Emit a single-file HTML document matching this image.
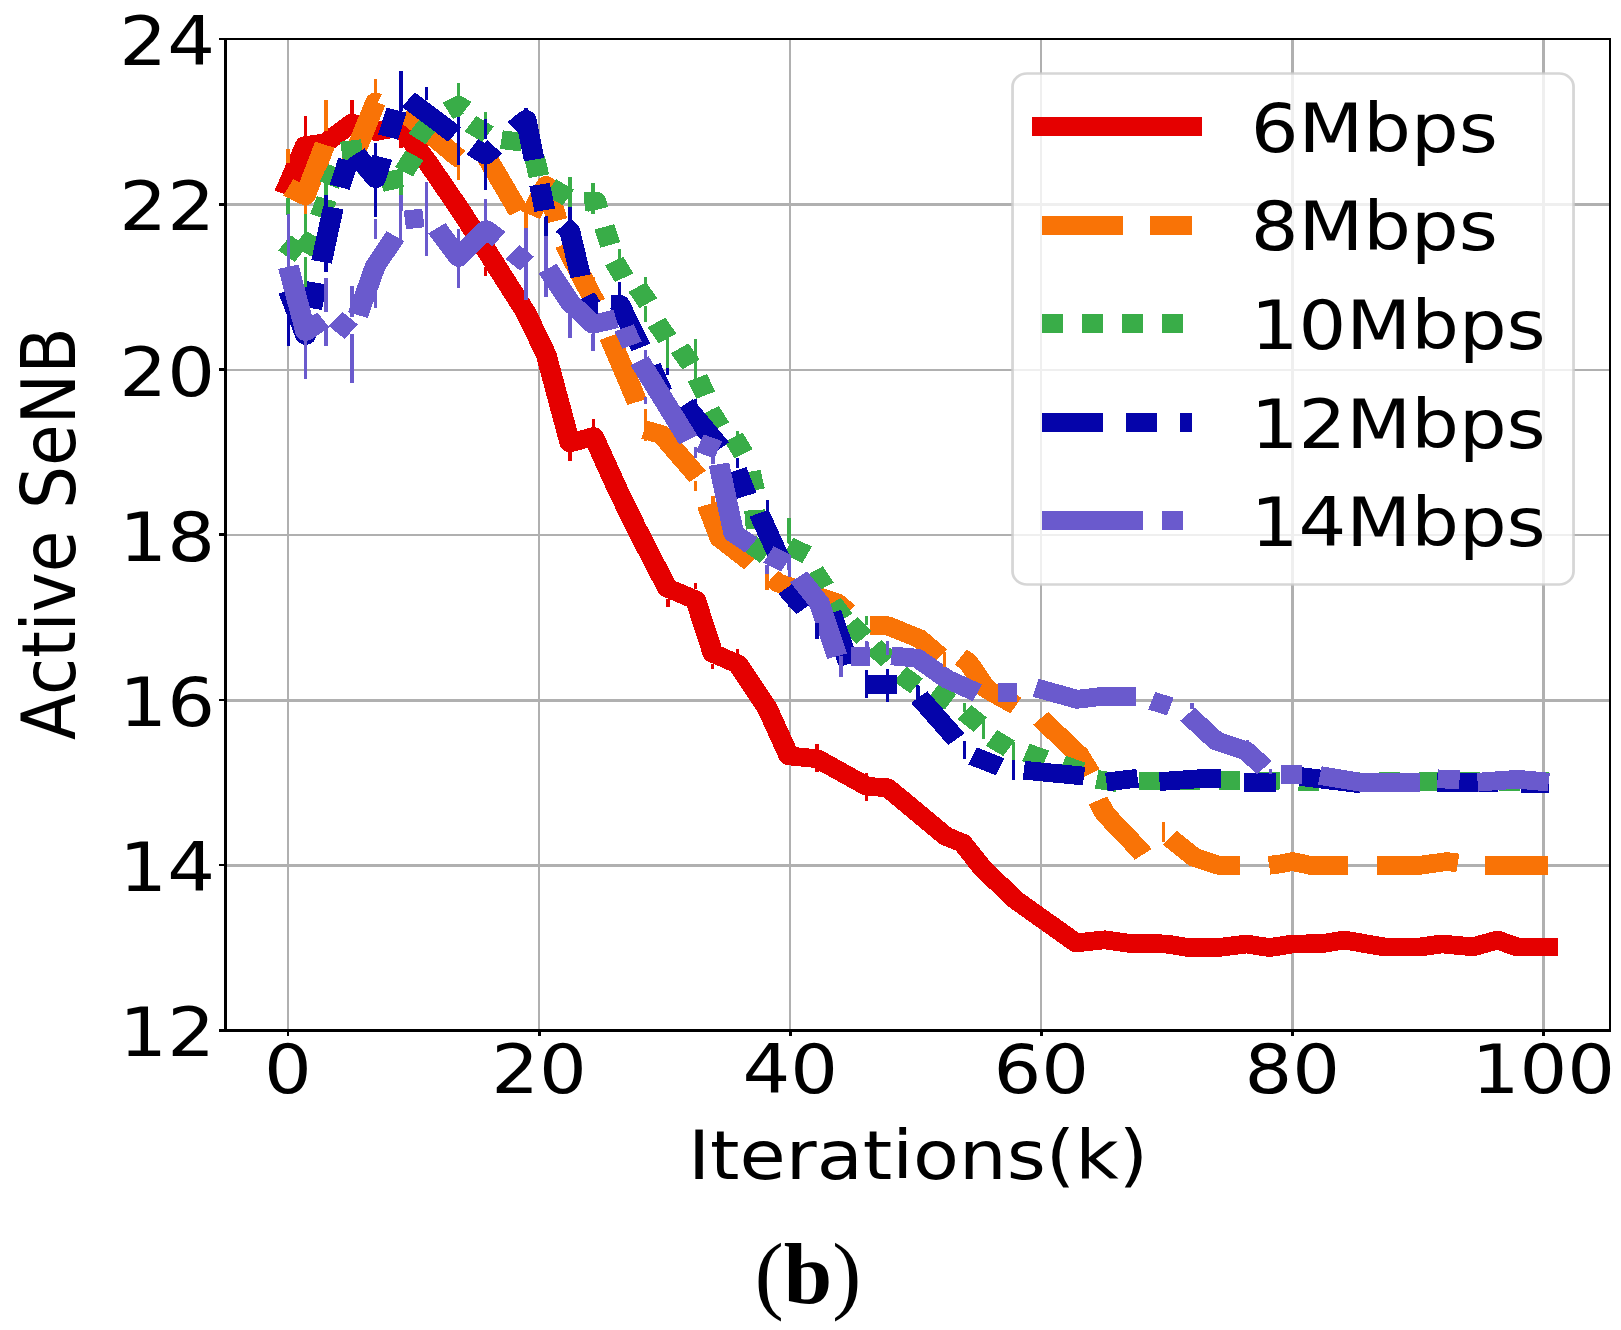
<!DOCTYPE html>
<html lang="en"><head><meta charset="utf-8"><title>Active SeNB vs Iterations (b)</title>
<style>html,body{margin:0;padding:0;background:#fff;overflow:hidden;}svg{display:block;}text{font-family:"DejaVu Sans","Liberation Sans",sans-serif;fill:#000;}</style></head><body>
<svg width="1621" height="1330" viewBox="0 0 1621 1330">
<rect width="1621" height="1330" fill="#fff"/>
<g transform="scale(1.11,1)">
<g stroke="#b0b0b0" stroke-width="2.5" shape-rendering="crispEdges"><line x1="259.46" y1="39.0" x2="259.46" y2="1030.3" stroke-width="2.1"/><line x1="485.68" y1="39.0" x2="485.68" y2="1030.3" stroke-width="2.1"/><line x1="711.89" y1="39.0" x2="711.89" y2="1030.3" stroke-width="2.1"/><line x1="938.11" y1="39.0" x2="938.11" y2="1030.3" stroke-width="2.1"/><line x1="1164.32" y1="39.0" x2="1164.32" y2="1030.3" stroke-width="2.1"/><line x1="1390.54" y1="39.0" x2="1390.54" y2="1030.3" stroke-width="2.1"/><line x1="203.15" y1="865.6" x2="1450.45" y2="865.6"/><line x1="203.15" y1="700.4" x2="1450.45" y2="700.4"/><line x1="203.15" y1="535.2" x2="1450.45" y2="535.2"/><line x1="203.15" y1="369.9" x2="1450.45" y2="369.9"/><line x1="203.15" y1="204.7" x2="1450.45" y2="204.7"/></g>
<clipPath id="axclip"><rect x="203.15" y="39.0" width="1247.30" height="991.30"/></clipPath>
<g clip-path="url(#axclip)" fill="none" shape-rendering="crispEdges" stroke-width="18.7" stroke-linejoin="round" stroke-linecap="butt">
<path d="M256.0 194.0L259.5 185.3L275.0 145.7L293.6 142.6L317.0 123.2L338.4 131.5L361.2 127.0L384.2 160.5L413.1 207.5L437.7 249.5L473.9 312.8L492.1 354.8L513.4 442.9L534.8 436.6L555.7 487.9L573.0 527.4L591.3 566.9L601.4 588.1L626.7 599.9L642.2 653.2L664.7 664.1L691.3 708.3L710.8 755.9L736.4 758.8L781.0 786.3L799.6 787.8L852.1 836.2L867.2 843.1L885.0 867.8L914.3 899.4L969.5 942.9L995.3 939.8L1018.6 943.5L1050.4 943.9L1070.4 947.6L1097.0 947.6L1122.9 944.0L1143.7 947.6L1164.5 944.0L1190.4 943.7L1211.2 940.0L1246.8 946.9L1280.1 946.9L1299.0 943.9L1326.8 946.9L1349.0 940.0L1366.8 946.9L1403.4 946.9" stroke="#e50000"/>
<path d="M259.7 187.3L275.0 195.8L292.7 144.7M310.5 155.7L317.0 160.9L338.4 102.0L340.2 102.8M364.6 113.0L384.2 131.0L413.1 158.0L414.4 158.0M438.7 157.5L467.1 211.2M478.0 215.0L492.0 185.5L502.1 220.7M508.7 244.0L536.5 303.0M548.9 336.5L567.6 384.9L573.9 402.0M580.6 429.7L596.1 434.6L628.5 476.5M637.0 504.7L648.6 538.2L676.7 562.5M695.4 578.0L701.7 583.2L720.7 590.0L754.1 602.9L764.0 612.0M783.5 625.6L799.6 625.7L828.1 638.5L846.8 656.3M865.5 657.2L872.1 662.0L888.6 688.8L915.2 705.6M937.5 718.4L972.2 755.0L982.5 773.7M989.1 800.4L995.3 813.2L1004.1 823.8L1026.3 849.5L1029.9 854.4M1053.9 837.7L1076.1 857.4L1097.5 865.3L1117.0 865.3M1143.3 865.3L1153.2 864.0L1164.5 861.5L1180.2 865.3L1214.3 865.3M1240.6 865.3L1279.3 865.3L1303.6 861.5L1313.4 863.0M1337.8 865.3L1394.3 865.3" stroke="#f97306"/>
<path d="M258.0 256.1L269.4 240.9M272.6 251.4L283.2 235.8M288.3 217.0L294.3 199.0M296.6 185.1L304.3 167.9M307.7 151.0L326.4 148.6M328.0 165.8L342.3 178.2M343.4 182.7L361.8 178.1M363.9 171.8L373.4 155.4M375.6 138.8L386.6 123.4M423.9 123.8L439.6 134.4M451.7 139.6L470.4 142.2M481.6 157.8L485.6 176.2M496.1 187.2L512.0 197.4M544.3 226.9L549.9 244.9M553.3 261.1L562.3 277.7M574.1 287.1L584.1 303.1M591.4 322.5L601.4 338.5M612.3 348.4L622.5 364.4M628.3 377.8L635.8 395.2M639.5 410.6L648.8 427.0M660.9 437.2L669.9 453.8M676.0 471.7L679.8 490.3M679.8 510.1L681.2 528.9M675.7 543.7L690.4 555.5M710.4 545.9L727.1 554.9M733.3 571.1L743.1 587.3M749.8 602.9L760.2 618.7M765.6 623.5L778.4 637.5M787.4 646.3L800.3 660.1M810.9 674.1L825.7 685.9M840.7 691.5L856.4 701.9M869.0 712.1L883.2 724.7M893.2 737.9L909.0 748.3M924.2 752.5L941.9 759.3M957.0 764.6L974.6 771.4M988.0 779.3L1006.6 782.7M1025.8 781.0L1044.7 781.0M1061.8 781.1L1080.7 780.9M1097.8 780.5L1116.7 780.5M1133.9 780.9L1152.8 781.1M1169.9 781.4L1188.8 781.6M1206.0 781.5L1224.9 781.5M1242.0 781.5L1260.9 781.5M1278.0 781.5L1296.9 781.5M1314.1 781.5L1333.0 781.5M1350.1 781.5L1369.0 781.5M1386.1 781.5L1395.2 781.5M403.4 110.8L413.1 105.3L419.4 109.7M526.5 201.4L536.7 201.0L538.9 209.4" stroke="#39ad48"/>
<path d="M259.8 290.4L275.3 335.4L276.7 328.3M280.8 308.2L285.6 282.9M289.7 261.8L300.3 207.5M306.0 187.2L313.8 160.4M320.7 153.8L338.4 178.7L344.3 157.2M349.6 137.1L357.2 110.2M367.9 99.6L409.5 134.4M425.5 146.9L437.6 155.1L445.8 146.9M463.4 129.1L473.9 119.4L481.2 159.7M486.1 184.5L490.8 210.2M507.1 225.2L513.3 230.9L523.1 276.3M527.6 296.7L532.4 305.9L539.1 305.9M550.2 304.4L558.2 304.4L577.4 347.4M586.3 366.5L596.8 392.4M616.9 404.6L649.4 448.0M663.7 470.2L672.6 495.8M683.8 513.2L704.6 563.9M708.5 588.1L724.8 608.4M748.8 612.8L764.8 664.1M780.5 684.8L808.4 684.8M828.1 697.1L861.6 739.2M876.1 755.9L901.0 766.8M922.4 770.2L976.6 776.1M996.7 782.0L1025.0 778.2M1044.6 781.6L1079.7 778.8L1100.1 778.8M1120.6 782.8L1149.9 782.8M1171.8 776.5L1226.2 784.0M1246.8 782.4L1274.7 782.4M1294.8 782.4L1349.9 782.4M1370.5 783.2L1395.3 783.2" stroke="#0504aa"/>
<path d="M259.8 266.7L275.3 331.5L291.3 320.0M302.3 319.0L316.5 331.7M322.4 315.1L338.0 266.3L356.2 236.1M364.7 219.9L381.4 218.0M393.5 228.2L413.1 257.4L438.1 229.6L449.5 239.1M461.6 251.9L474.8 263.8M493.4 268.6L513.3 302.0L534.3 324.3L555.1 318.8M562.3 327.9L569.4 345.2M576.2 360.8L620.1 439.8M630.4 443.1L647.1 449.8M647.7 464.2L661.0 533.3L677.0 545.2M692.3 554.5L708.3 563.4M719.5 576.8L738.2 602.9L754.2 656.2M767.0 656.6L784.1 656.6M803.1 655.9L826.3 658.2L853.0 679.0L880.6 692.8M898.7 692.8L915.8 692.8M933.0 687.8L970.4 699.3L993.5 696.3L1023.7 696.3M1037.6 700.7L1054.3 706.6M1069.9 714.3L1095.7 740.9L1122.4 750.8L1139.2 767.6M1154.4 774.5L1172.7 774.5M1189.0 775.5L1225.4 782.2L1279.7 782.2M1295.1 778.8L1314.9 779.8M1331.2 782.2L1367.7 779.2L1395.3 782.2" stroke="#6a5acd"/>
<path d="M259.5 149.0V162.5" stroke="#f97306" stroke-width="3"/>
<path d="M259.5 198.3V215.0" stroke="#39ad48" stroke-width="3"/>
<path d="M275.0 116.3V137.2" stroke="#e50000" stroke-width="3"/>
<path d="M275.0 203.9V215.0" stroke="#f97306" stroke-width="3"/>
<path d="M293.6 100.0V131.1" stroke="#f97306" stroke-width="3"/>
<path d="M293.6 171.2V194.6" stroke="#39ad48" stroke-width="3"/>
<path d="M293.6 194.6V200.8" stroke="#0504aa" stroke-width="3"/>
<path d="M317.1 100.0V113.8" stroke="#e50000" stroke-width="3"/>
<path d="M338.4 79.3V93.4" stroke="#f97306" stroke-width="3"/>
<path d="M338.4 142.8V157.0" stroke="#0504aa" stroke-width="3"/>
<path d="M338.4 187.8V217.4" stroke="#0504aa" stroke-width="3"/>
<path d="M361.2 71.2V111.3" stroke="#0504aa" stroke-width="3"/>
<path d="M361.2 136.6V148.0" stroke="#e50000" stroke-width="3"/>
<path d="M361.2 168.7V194.6" stroke="#39ad48" stroke-width="3"/>
<path d="M361.2 194.6V210.7" stroke="#6a5acd" stroke-width="3"/>
<path d="M384.2 87.3V99.0" stroke="#0504aa" stroke-width="3"/>
<path d="M384.2 181.7V220.0" stroke="#6a5acd" stroke-width="3"/>
<path d="M413.1 83.2V96.9" stroke="#39ad48" stroke-width="3"/>
<path d="M413.1 116.9V165.0" stroke="#0504aa" stroke-width="3"/>
<path d="M413.1 165.0V180.4" stroke="#f97306" stroke-width="3"/>
<path d="M259.8 197.6V214.4" stroke="#39ad48" stroke-width="3"/>
<path d="M259.8 214.4V267.1" stroke="#6a5acd" stroke-width="3"/>
<path d="M259.8 316.1V345.7" stroke="#0504aa" stroke-width="3"/>
<path d="M275.3 204.5V214.4" stroke="#f97306" stroke-width="3"/>
<path d="M275.3 214.4V237.1" stroke="#39ad48" stroke-width="3"/>
<path d="M275.3 256.9V286.5" stroke="#39ad48" stroke-width="3"/>
<path d="M275.3 339.8V379.2" stroke="#6a5acd" stroke-width="3"/>
<path d="M293.6 175.9V194.7" stroke="#39ad48" stroke-width="3"/>
<path d="M293.6 194.7V206.5" stroke="#0504aa" stroke-width="3"/>
<path d="M293.6 261.8V271.7" stroke="#0504aa" stroke-width="3"/>
<path d="M293.6 277.6V312.1" stroke="#6a5acd" stroke-width="3"/>
<path d="M293.6 325.9V345.7" stroke="#6a5acd" stroke-width="3"/>
<path d="M317.0 285.5V317.1" stroke="#6a5acd" stroke-width="3"/>
<path d="M317.0 333.8V383.2" stroke="#6a5acd" stroke-width="3"/>
<path d="M338.0 187.8V217.4" stroke="#0504aa" stroke-width="3"/>
<path d="M338.0 219.3V239.1" stroke="#6a5acd" stroke-width="3"/>
<path d="M338.0 288.4V308.2" stroke="#6a5acd" stroke-width="3"/>
<path d="M361.1 170.0V194.7" stroke="#39ad48" stroke-width="3"/>
<path d="M361.1 194.7V242.0" stroke="#6a5acd" stroke-width="3"/>
<path d="M384.3 181.8V219.3" stroke="#6a5acd" stroke-width="3"/>
<path d="M384.3 227.2V255.9" stroke="#6a5acd" stroke-width="3"/>
<path d="M413.1 170.0V179.9" stroke="#f97306" stroke-width="3"/>
<path d="M413.1 229.2V288.4" stroke="#6a5acd" stroke-width="3"/>
<path d="M437.6 170.0V189.7" stroke="#0504aa" stroke-width="3"/>
<path d="M437.6 199.6V221.3" stroke="#6a5acd" stroke-width="3"/>
<path d="M473.9 214.4V227.2" stroke="#f97306" stroke-width="3"/>
<path d="M473.9 227.2V296.3" stroke="#6a5acd" stroke-width="3"/>
<path d="M492.2 217.4V235.1" stroke="#0504aa" stroke-width="3"/>
<path d="M492.2 235.1V296.3" stroke="#6a5acd" stroke-width="3"/>
<path d="M513.5 176.9V206.5" stroke="#39ad48" stroke-width="3"/>
<path d="M513.5 206.5V223.3" stroke="#0504aa" stroke-width="3"/>
<path d="M513.5 308.2V337.8" stroke="#6a5acd" stroke-width="3"/>
<path d="M361.1 70.9V113.3" stroke="#0504aa" stroke-width="3"/>
<path d="M384.3 87.6V99.5" stroke="#0504aa" stroke-width="3"/>
<path d="M384.3 182.4V255.4" stroke="#6a5acd" stroke-width="3"/>
<path d="M413.1 83.7V96.5" stroke="#39ad48" stroke-width="3"/>
<path d="M413.1 117.2V164.6" stroke="#0504aa" stroke-width="3"/>
<path d="M413.1 164.6V180.4" stroke="#f97306" stroke-width="3"/>
<path d="M437.6 112.3V119.2" stroke="#39ad48" stroke-width="3"/>
<path d="M437.6 119.2V139.0" stroke="#0504aa" stroke-width="3"/>
<path d="M437.6 162.6V190.3" stroke="#0504aa" stroke-width="3"/>
<path d="M437.6 199.2V220.9" stroke="#6a5acd" stroke-width="3"/>
<path d="M473.9 107.8V110.5" stroke="#0504aa" stroke-width="3"/>
<path d="M473.9 217.9V227.8" stroke="#f97306" stroke-width="3"/>
<path d="M473.9 227.8V300.0" stroke="#6a5acd" stroke-width="3"/>
<path d="M492.2 215.9V235.7" stroke="#0504aa" stroke-width="3"/>
<path d="M492.2 235.7V296.9" stroke="#6a5acd" stroke-width="3"/>
<path d="M513.5 177.4V207.1" stroke="#39ad48" stroke-width="3"/>
<path d="M513.5 207.1V223.8" stroke="#0504aa" stroke-width="3"/>
<path d="M437.4 167.8V189.5" stroke="#0504aa" stroke-width="3"/>
<path d="M437.4 199.3V221.1" stroke="#6a5acd" stroke-width="3"/>
<path d="M437.4 266.5V276.3" stroke="#e50000" stroke-width="3"/>
<path d="M473.9 209.2V228.0" stroke="#f97306" stroke-width="3"/>
<path d="M473.9 228.0V296.1" stroke="#6a5acd" stroke-width="3"/>
<path d="M492.0 217.1V235.9" stroke="#0504aa" stroke-width="3"/>
<path d="M492.0 235.9V297.1" stroke="#6a5acd" stroke-width="3"/>
<path d="M513.3 177.6V207.2" stroke="#39ad48" stroke-width="3"/>
<path d="M513.3 207.2V223.0" stroke="#0504aa" stroke-width="3"/>
<path d="M513.3 317.8V337.5" stroke="#6a5acd" stroke-width="3"/>
<path d="M534.3 182.6V192.4" stroke="#39ad48" stroke-width="3"/>
<path d="M534.3 209.2V214.2" stroke="#39ad48" stroke-width="3"/>
<path d="M534.3 277.3V288.2" stroke="#f97306" stroke-width="3"/>
<path d="M534.3 333.6V351.3" stroke="#6a5acd" stroke-width="3"/>
<path d="M558.2 248.7V260.5" stroke="#39ad48" stroke-width="3"/>
<path d="M558.2 282.3V295.1" stroke="#0504aa" stroke-width="3"/>
<path d="M581.5 277.3V288.2" stroke="#39ad48" stroke-width="3"/>
<path d="M581.5 305.9V321.7" stroke="#39ad48" stroke-width="3"/>
<path d="M601.4 333.6V367.1" stroke="#39ad48" stroke-width="3"/>
<path d="M626.3 339.5V379.0" stroke="#39ad48" stroke-width="3"/>
<path d="M513.4 452.4V461.3" stroke="#e50000" stroke-width="3"/>
<path d="M513.4 330.0V337.9" stroke="#6a5acd" stroke-width="3"/>
<path d="M534.7 418.8V427.7" stroke="#e50000" stroke-width="3"/>
<path d="M534.7 333.9V350.7" stroke="#6a5acd" stroke-width="3"/>
<path d="M581.5 349.7V357.6" stroke="#6a5acd" stroke-width="3"/>
<path d="M581.5 397.1V404.0" stroke="#6a5acd" stroke-width="3"/>
<path d="M581.5 409.0V440.5" stroke="#f97306" stroke-width="3"/>
<path d="M601.4 337.9V367.5" stroke="#39ad48" stroke-width="3"/>
<path d="M601.4 367.5V375.4" stroke="#0504aa" stroke-width="3"/>
<path d="M626.3 338.9V379.3" stroke="#39ad48" stroke-width="3"/>
<path d="M626.3 399.1V406.0" stroke="#0504aa" stroke-width="3"/>
<path d="M626.3 446.5V458.3" stroke="#6a5acd" stroke-width="3"/>
<path d="M626.3 481.0V490.9" stroke="#f97306" stroke-width="3"/>
<path d="M642.3 409.0V416.9" stroke="#39ad48" stroke-width="3"/>
<path d="M642.3 456.3V464.2" stroke="#6a5acd" stroke-width="3"/>
<path d="M642.3 495.8V541.2" stroke="#f97306" stroke-width="3"/>
<path d="M664.6 430.7V440.5" stroke="#39ad48" stroke-width="3"/>
<path d="M664.6 458.3V468.2" stroke="#0504aa" stroke-width="3"/>
<path d="M691.2 499.8V509.6" stroke="#0504aa" stroke-width="3"/>
<path d="M691.2 564.9V570.0" stroke="#6a5acd" stroke-width="3"/>
<path d="M710.8 517.5V543.2" stroke="#39ad48" stroke-width="3"/>
<path d="M710.8 555.0V570.0" stroke="#6a5acd" stroke-width="3"/>
<path d="M601.8 599.0V606.9" stroke="#e50000" stroke-width="3"/>
<path d="M626.7 583.2V589.1" stroke="#e50000" stroke-width="3"/>
<path d="M642.1 664.1V669.0" stroke="#e50000" stroke-width="3"/>
<path d="M642.1 529.9V540.7" stroke="#f97306" stroke-width="3"/>
<path d="M664.7 649.3V654.2" stroke="#e50000" stroke-width="3"/>
<path d="M691.0 565.4V574.3" stroke="#6a5acd" stroke-width="3"/>
<path d="M691.0 574.3V590.1" stroke="#f97306" stroke-width="3"/>
<path d="M711.1 520.0V543.7" stroke="#39ad48" stroke-width="3"/>
<path d="M711.1 562.4V577.2" stroke="#6a5acd" stroke-width="3"/>
<path d="M711.1 599.0V606.9" stroke="#0504aa" stroke-width="3"/>
<path d="M735.9 622.6V639.4" stroke="#0504aa" stroke-width="3"/>
<path d="M736.4 744.0V749.0" stroke="#e50000" stroke-width="3"/>
<path d="M757.7 656.2V676.9" stroke="#6a5acd" stroke-width="3"/>
<path d="M780.8 615.7V624.6" stroke="#39ad48" stroke-width="3"/>
<path d="M780.8 641.4V648.3" stroke="#6a5acd" stroke-width="3"/>
<path d="M780.8 670.0V697.7" stroke="#0504aa" stroke-width="3"/>
<path d="M799.5 641.4V648.3" stroke="#6a5acd" stroke-width="3"/>
<path d="M799.5 669.0V701.6" stroke="#0504aa" stroke-width="3"/>
<path d="M827.1 685.8V697.7" stroke="#0504aa" stroke-width="3"/>
<path d="M736.0 744.4V749.3" stroke="#e50000" stroke-width="3"/>
<path d="M736.0 768.1V772.0" stroke="#e50000" stroke-width="3"/>
<path d="M780.9 773.0V778.0" stroke="#e50000" stroke-width="3"/>
<path d="M780.9 795.7V800.7" stroke="#e50000" stroke-width="3"/>
<path d="M869.0 740.5V759.2" stroke="#0504aa" stroke-width="3"/>
<path d="M913.1 760.2V779.9" stroke="#0504aa" stroke-width="3"/>
<path d="M885.9 719.7V738.5" stroke="#39ad48" stroke-width="3"/>
<path d="M913.1 742.4V760.2" stroke="#39ad48" stroke-width="3"/>
<path d="M869.0 703.0V711.8" stroke="#39ad48" stroke-width="3"/>
<path d="M826.7 684.9V698.7" stroke="#0504aa" stroke-width="3"/>
<path d="M851.2 652.3V667.1" stroke="#f97306" stroke-width="3"/>
<path d="M799.7 641.5V655.3" stroke="#6a5acd" stroke-width="3"/>
<path d="M781.0 641.5V647.4" stroke="#6a5acd" stroke-width="3"/>
<path d="M1048.0 821.9V841.6" stroke="#f97306" stroke-width="3"/>
<path d="M1074.0 703.0V709.3" stroke="#6a5acd" stroke-width="3"/>
<path d="M1124.1 739.9V744.9" stroke="#6a5acd" stroke-width="3"/>
<path d="M1144.6 768.6V773.5" stroke="#6a5acd" stroke-width="3"/>
</g>
<rect x="203.15" y="39.0" width="1247.30" height="991.30" fill="none" stroke="#000" stroke-width="2.6" shape-rendering="crispEdges"/>
<g stroke="#000" stroke-width="2.6" shape-rendering="crispEdges"><line x1="259.46" y1="1030.3" x2="259.46" y2="1035.8"/><line x1="485.68" y1="1030.3" x2="485.68" y2="1035.8"/><line x1="711.89" y1="1030.3" x2="711.89" y2="1035.8"/><line x1="938.11" y1="1030.3" x2="938.11" y2="1035.8"/><line x1="1164.32" y1="1030.3" x2="1164.32" y2="1035.8"/><line x1="1390.54" y1="1030.3" x2="1390.54" y2="1035.8"/><line x1="197.15" y1="1030.3" x2="203.15" y2="1030.3"/><line x1="197.15" y1="865.1" x2="203.15" y2="865.1"/><line x1="197.15" y1="699.9" x2="203.15" y2="699.9"/><line x1="197.15" y1="534.7" x2="203.15" y2="534.7"/><line x1="197.15" y1="369.4" x2="203.15" y2="369.4"/><line x1="197.15" y1="204.2" x2="203.15" y2="204.2"/><line x1="197.15" y1="39.0" x2="203.15" y2="39.0"/></g>
<g font-size="67.7px"><text x="259.5" y="1093" text-anchor="middle">0</text><text x="485.7" y="1093" text-anchor="middle">20</text><text x="711.9" y="1093" text-anchor="middle">40</text><text x="938.1" y="1093" text-anchor="middle">60</text><text x="1164.3" y="1093" text-anchor="middle">80</text><text x="1390.5" y="1093" text-anchor="middle">100</text><text x="193.7" y="1056.5" text-anchor="end">12</text><text x="193.7" y="891.3" text-anchor="end">14</text><text x="193.7" y="726.1" text-anchor="end">16</text><text x="193.7" y="560.9" text-anchor="end">18</text><text x="193.7" y="395.6" text-anchor="end">20</text><text x="193.7" y="230.4" text-anchor="end">22</text><text x="193.7" y="65.2" text-anchor="end">24</text><text x="827.0" y="1179" text-anchor="middle">Iterations(k)</text><text transform="translate(67.4,533.7) rotate(-90)" text-anchor="middle">Active SeNB</text></g>
<rect x="912.2" y="73.5" width="505.4" height="511" rx="13" ry="13" fill="#fff" fill-opacity="0.8" stroke="#ccc" stroke-opacity="0.8" stroke-width="2.5"/>
<g fill="none" stroke-width="18.7" shape-rendering="crispEdges"><path d="M929.7 126.8H1082.9" stroke="#e50000"/><path d="M938.7 225.4H1073.9" stroke="#f97306" stroke-dasharray="72.9 24.3"/><path d="M938.7 323.8H1073.9" stroke="#39ad48" stroke-dasharray="18.9 17.1"/><path d="M938.7 422.5H1073.9" stroke="#0504aa" stroke-dasharray="54.9 20.7 27.9 20.7"/><path d="M938.7 520.7H1073.9" stroke="#6a5acd" stroke-dasharray="90.9 17.1 18.9 17.1"/></g>
<g font-size="67.7px"><text x="1126.8" y="151.9">6Mbps</text><text x="1126.8" y="250.5">8Mbps</text><text x="1126.8" y="348.9">10Mbps</text><text x="1126.8" y="447.6">12Mbps</text><text x="1126.8" y="545.8">14Mbps</text></g>
</g>
<text x="808" y="1303" text-anchor="middle" style="font-family:'Liberation Serif','DejaVu Serif',serif" font-size="87px">(<tspan font-weight="bold">b</tspan>)</text>
</svg></body></html>
